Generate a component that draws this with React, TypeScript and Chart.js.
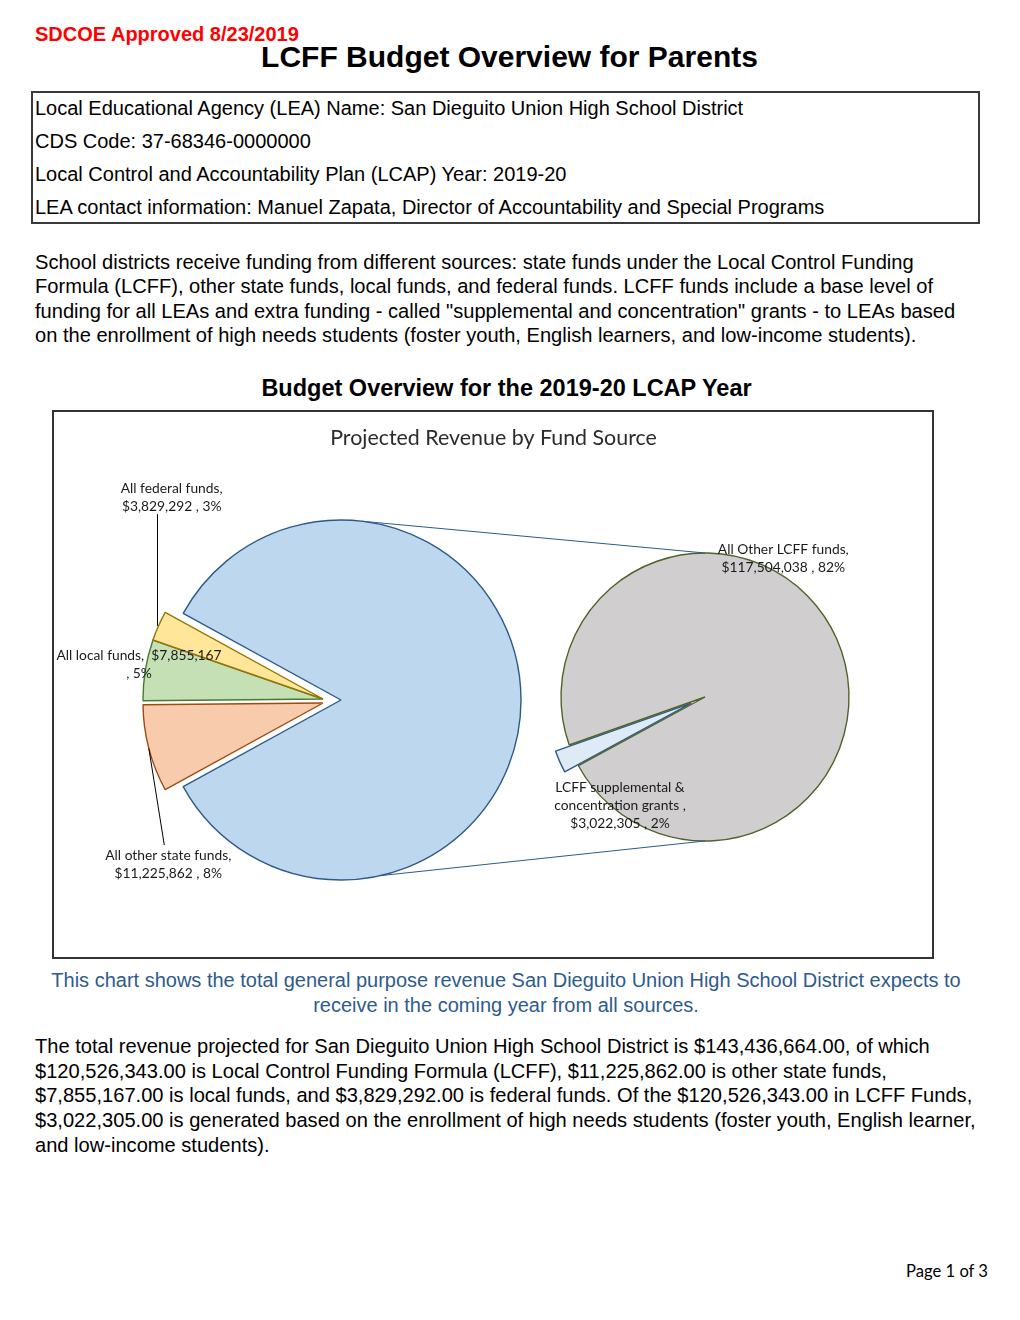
import React, { useEffect, useRef } from "react";
import { Chart, registerables } from "chart.js";

Chart.register(...registerables);

// ---------------- data ----------------
const fundLabels = ["All other state funds", "All local funds", "All federal funds", "LCFF"];
const fundValues = [11225862, 7855167, 3829292, 120526343];
const lcffLabels = ["LCFF supplemental & concentration grants", "All Other LCFF funds"];
const lcffValues = [3022305, 117504038];

// ---------------- style ----------------
const fundFill = ["#F8CBAD", "#C5E0B4", "#FFE699", "#BDD7EE"];
const fundLine = ["#9E4A12", "#4A7A2E", "#9A7400", "#2E5A8A"];
const lcffFill = ["#DEEBF7", "#D0CECE"];
const lcffLine = ["#2E5A8A", "#4F6228"];

const ARIAL = '"Liberation Sans", Arial, sans-serif';
const CAL = 'Lato, "Open Sans", sans-serif';
const PAGE_W = 1020;
const BOX = { left: 52, top: 410, w: 882, h: 549 };

const fmt = (n: number) => n.toLocaleString("en-US");
const grandTotal = fundValues.reduce((a, b) => a + b, 0);
const pct = (v: number) => Math.round((v / grandTotal) * 100);

// explode shifts (pixels) per slice, Excel-style
const fundShift = [
  { dx: -18, dy: 3 },
  { dx: -18, dy: -1 },
  { dx: -18, dy: -1 },
  { dx: 0, dy: 0 },
];
const lcffShift = [{ radial: 15 }, {}];

const explodePlugin = {
  id: "explodeShift",
  afterDatasetsUpdate(chart: any, _args: any, opts: any) {
    const shifts = (opts && opts.shifts) || [];
    chart.getDatasetMeta(0).data.forEach((el: any, i: number) => {
      const s = shifts[i];
      if (!s) return;
      if (s.radial) {
        const mid = (el.startAngle + el.endAngle) / 2;
        el.x += Math.cos(mid) * s.radial;
        el.y += Math.sin(mid) * s.radial;
      }
      el.x += s.dx || 0;
      el.y += s.dy || 0;
    });
  },
};

function makeAnnotPlugin(getLeft: () => any) {
  return {
    id: "annot",
    afterDraw(chart: any) {
      const left = getLeft();
      if (!left) return;
      const ctx: CanvasRenderingContext2D = chart.ctx;
      const L = left.getDatasetMeta(0).data as any[];
      const R = chart.getDatasetMeta(0).data as any[];
      const blue = L[3];
      const gray = R[1];
      const d2r = Math.PI / 180;
      ctx.save();
      // series lines
      ctx.strokeStyle = "#2E5A8A";
      ctx.lineWidth = 1;
      const a1 = -83.4 * d2r;
      const a2 = 77.4 * d2r;
      ctx.beginPath();
      ctx.moveTo(blue.x + blue.outerRadius * Math.cos(a1), blue.y + blue.outerRadius * Math.sin(a1));
      ctx.lineTo(gray.x, gray.y - gray.outerRadius);
      ctx.moveTo(blue.x + blue.outerRadius * Math.cos(a2), blue.y + blue.outerRadius * Math.sin(a2));
      ctx.lineTo(gray.x, gray.y + gray.outerRadius);
      ctx.stroke();

      // title
      ctx.fillStyle = "#2b2b2b";
      ctx.font = `21.4px ${CAL}`;
      ctx.textAlign = "center";
      ctx.textBaseline = "alphabetic";
      ctx.fillText("Projected Revenue by Fund Source", 441.5, 35);

      // labels
      const lh = 18.2;
      const drawLines = (lines: string[], x: number, y: number) => {
        lines.forEach((t, i) => ctx.fillText(t, x, y + i * lh));
      };
      ctx.fillStyle = "#1a1a1a";
      ctx.font = `13.8px ${CAL}`;
      const mid = (el: any) => {
        const m = (el.startAngle + el.endAngle) / 2;
        return { x: el.x + el.outerRadius * Math.cos(m), y: el.y + el.outerRadius * Math.sin(m) };
      };

      // federal
      const fedPos = { x: 119.7, y: 82.5 };
      drawLines([`${fundLabels[2]},`, `$${fmt(fundValues[2])} , ${pct(fundValues[2])}%`], fedPos.x, fedPos.y);
      // local
      drawLines([`${fundLabels[1]},  $${fmt(fundValues[1])}`, `, ${pct(fundValues[1])}%`], 87, 250);
      // state
      const statePos = { x: 116.3, y: 450 };
      drawLines([`${fundLabels[0]},`, `$${fmt(fundValues[0])} , ${pct(fundValues[0])}%`], statePos.x, statePos.y);
      // other LCFF
      drawLines([`${lcffLabels[1]},`, `$${fmt(lcffValues[1])} , ${pct(lcffValues[1])}%`], 731.3, 144);
      // supplemental
      const sp = lcffLabels[0].split("& ");
      drawLines([`${sp[0]}&`, `${sp[1]} ,`, `$${fmt(lcffValues[0])} , ${pct(lcffValues[0])}%`], 568, 381.5);

      // leader lines
      ctx.strokeStyle = "#000";
      ctx.lineWidth = 1;
      const fy = mid(L[2]);
      ctx.beginPath();
      ctx.moveTo(fy.x - 1, fedPos.y + lh + 3.5);
      ctx.lineTo(fy.x - 1, fy.y);
      const st = mid(L[0]);
      ctx.moveTo(statePos.x - 4, statePos.y - 15);
      ctx.lineTo(st.x, st.y);
      ctx.stroke();
      ctx.restore();
    },
  };
}

function Txt(props: { text: string; x: number; base: number; size: number; bold?: boolean; color?: string; align?: string; font?: string; ls?: number }) {
  const { text, x, base, size, bold, color, align, font, ls } = props;
  const style: any = {
    position: "absolute",
    top: base - 0.8465 * size,
    fontFamily: font || ARIAL,
    fontSize: size,
    lineHeight: `${size}px`,
    fontWeight: bold ? 700 : 400,
    color: color || "#000",
    whiteSpace: "pre",
    letterSpacing: ls ? `${ls}px` : undefined,
  };
  if (align === "center") {
    style.left = x;
    style.transform = "translateX(-50%)";
  } else if (align === "right") {
    style.right = PAGE_W - x;
  } else style.left = x;
  return <div style={style}>{text}</div>;
}

const leaRows = [
  "Local Educational Agency (LEA) Name: San Dieguito Union High School District",
  "CDS Code: 37-68346-0000000",
  "Local Control and Accountability Plan (LCAP) Year: 2019-20",
  "LEA contact information: Manuel Zapata, Director of Accountability and Special Programs",
];
const introLines = [
  "School districts receive funding from different sources: state funds under the Local Control Funding",
  "Formula (LCFF), other state funds, local funds, and federal funds. LCFF funds include a base level of",
  'funding for all LEAs and extra funding - called "supplemental and concentration" grants - to LEAs based',
  "on the enrollment of high needs students (foster youth, English learners, and low-income students).",
];
const captionLines = [
  "This chart shows the total general purpose revenue San Dieguito Union High School District expects to",
  "receive in the coming year from all sources.",
];
const summaryLines = [
  "The total revenue projected for San Dieguito Union High School District is $143,436,664.00, of which",
  "$120,526,343.00 is Local Control Funding Formula (LCFF), $11,225,862.00 is other state funds,",
  "$7,855,167.00 is local funds, and $3,829,292.00 is federal funds. Of the $120,526,343.00 in LCFF Funds,",
  "$3,022,305.00 is generated based on the enrollment of high needs students (foster youth, English learner,",
  "and low-income students).",
];

function PieOfPie() {
  const leftRef = useRef<HTMLCanvasElement>(null);
  const rightRef = useRef<HTMLCanvasElement>(null);
  useEffect(() => {
    const smallShare = fundValues.slice(0, 3).reduce((a, b) => a + b, 0) / grandTotal;
    const startScreen = 180 - smallShare * 180;
    let leftChart: any = null;
    leftChart = new Chart(leftRef.current as HTMLCanvasElement, {
      type: "pie",
      data: {
        labels: fundLabels,
        datasets: [
          {
            data: fundValues,
            backgroundColor: fundFill,
            borderColor: fundLine,
            borderWidth: 1.4,
          },
        ],
      },
      options: {
        responsive: false,
        animation: false,
        devicePixelRatio: 1,
        events: [],
        rotation: startScreen + 90,
        radius: 180,
        layout: { padding: { left: 0, right: 304, top: 31, bottom: 0 } },
        plugins: {
          legend: { display: false },
          tooltip: { enabled: false },
          title: { display: false },
          explodeShift: { shifts: fundShift },
        } as any,
      },
      plugins: [explodePlugin],
    } as any);
    const rightChart = new Chart(rightRef.current as HTMLCanvasElement, {
      type: "pie",
      data: {
        labels: lcffLabels,
        datasets: [
          {
            data: lcffValues,
            backgroundColor: lcffFill,
            borderColor: lcffLine,
            borderWidth: 1.4,
          },
        ],
      },
      options: {
        responsive: false,
        animation: false,
        devicePixelRatio: 1,
        events: [],
        rotation: 241.5,
        radius: 144,
        layout: { padding: { left: 424, right: 0, top: 25, bottom: 0 } },
        plugins: {
          legend: { display: false },
          tooltip: { enabled: false },
          title: { display: false },
          explodeShift: { shifts: lcffShift },
        } as any,
      },
      plugins: [explodePlugin, makeAnnotPlugin(() => leftChart)],
    } as any);
    return () => {
      rightChart.destroy();
      leftChart.destroy();
    };
  }, []);
  const cstyle: any = { position: "absolute", left: BOX.left, top: BOX.top, width: BOX.w, height: BOX.h };
  return (
    <>
      <div
        style={{
          position: "absolute",
          left: BOX.left,
          top: BOX.top,
          width: BOX.w,
          height: BOX.h,
          border: "2px solid #333",
          boxSizing: "border-box",
        }}
      />
      <canvas ref={leftRef} width={BOX.w} height={BOX.h} style={cstyle} />
      <canvas ref={rightRef} width={BOX.w} height={BOX.h} style={cstyle} />
    </>
  );
}

export default function App() {
  return (
    <div style={{ position: "absolute", left: 0, top: 0, width: 1020, height: 1320, background: "#fff", overflow: "hidden" }}>
      <Txt text="SDCOE Approved 8/23/2019" x={35} base={41} size={20} bold color="#FF0000" />
      <Txt text="LCFF Budget Overview for Parents" x={509.5} base={67} size={30} bold align="center" />
      <div
        style={{
          position: "absolute",
          left: 31,
          top: 91,
          width: 949,
          height: 133,
          border: "2px solid #3a3a3a",
          boxSizing: "border-box",
        }}
      />
      {leaRows.map((t, i) => (
        <Txt key={"r" + i} text={t} x={35} base={115 + i * 33} size={20} />
      ))}
      {introLines.map((t, i) => (
        <Txt key={"p" + i} text={t} x={35} base={269 + i * 24.5} size={20.1} />
      ))}
      <Txt text="Budget Overview for the 2019-20 LCAP Year" x={506.5} base={397} size={23.5} bold align="center" />
      <PieOfPie />
      {captionLines.map((t, i) => (
        <Txt key={"c" + i} text={t} x={506} base={987 + i * 24.5} size={20} color="#2E5B8E" align="center" />
      ))}
      {summaryLines.map((t, i) => (
        <Txt key={"s" + i} text={t} x={35} base={1053 + i * 24.7} size={20.1} />
      ))}
      <Txt text="Page 1 of 3" x={988} base={1277} size={16.6} font={CAL} align="right" />
    </div>
  );
}
